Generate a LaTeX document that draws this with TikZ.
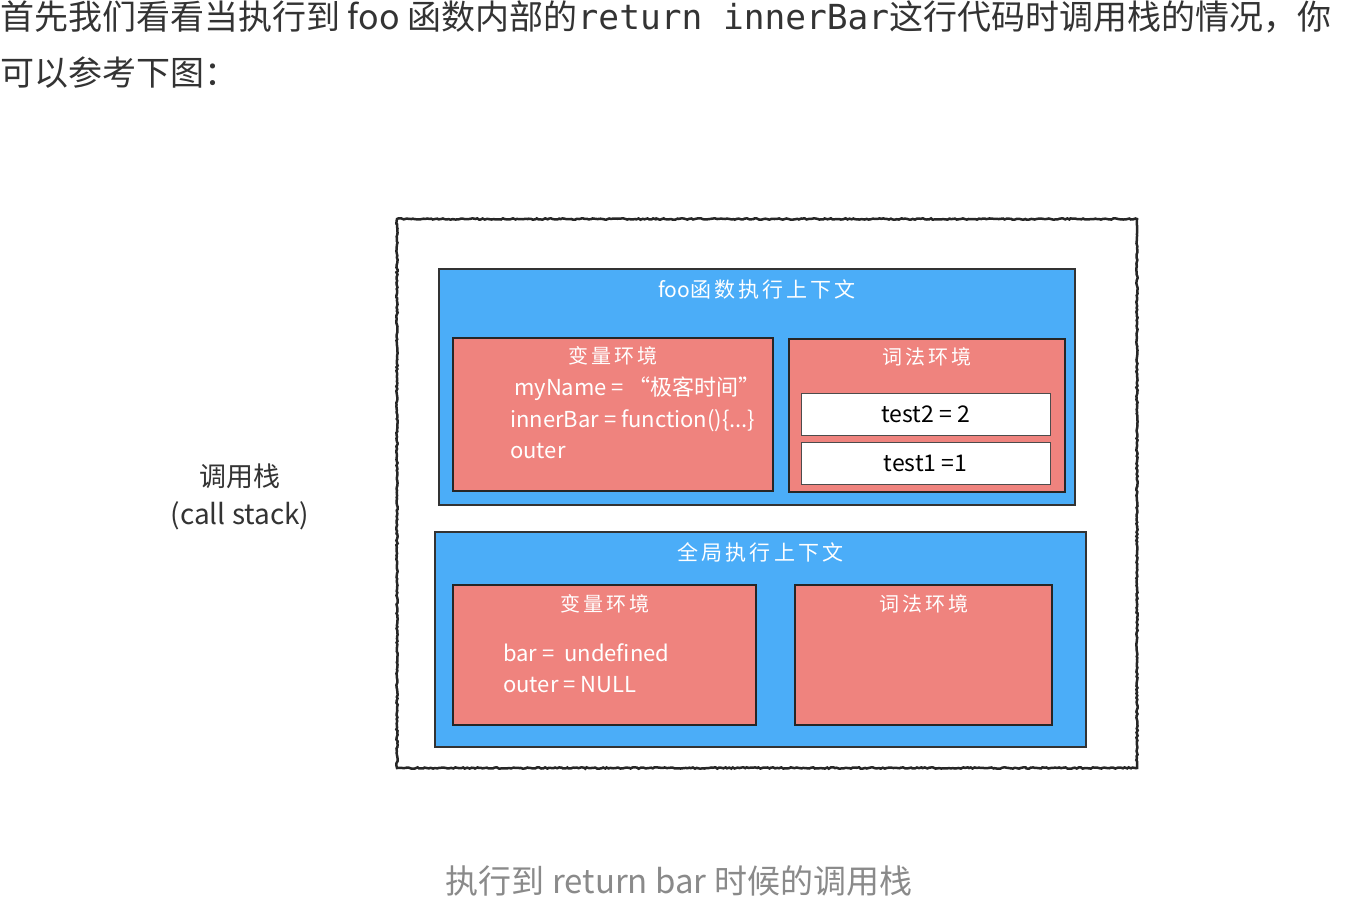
\documentclass[tikz,border=0pt]{standalone}
\usepackage{fontspec}
\setmainfont{Noto Sans CJK SC}
\newfontfamily\codefont{DejaVu Sans Mono}
\newfontfamily\handfont{Noto Sans CJK SC}[LetterSpace=15]
\usetikzlibrary{decorations.pathmorphing}
\definecolor{ctxblue}{HTML}{4BADF8}
\definecolor{envred}{HTML}{EF837E}
\definecolor{bodytext}{HTML}{333333}
\definecolor{captiongray}{HTML}{8A8A8A}
\tikzset{
  ctxbox/.style={outer sep=0, inner sep=0, draw=black!80, line width=1.5pt, fill=ctxblue},
  envbox/.style={outer sep=0, inner sep=0, draw=black!85, line width=2pt, fill=envred},
  valbox/.style={outer sep=0, inner sep=0, draw=black!70, line width=1pt, fill=white, text=black, font=\fontsize{23}{26}\selectfont},
  sketchbox/.style={outer sep=0, inner sep=0, draw=black!85, fill=white, line width=2.5pt, decorate, decoration={random steps, segment length=2pt, amplitude=0.7pt}},
  ctxtitle/.style={inner sep=0, text=white, font=\handfont\fontsize{21}{24}\selectfont},
  envtitle/.style={inner sep=0, text=white, font=\handfont\fontsize{20}{22}\selectfont},
  envline/.style={inner sep=0, anchor=base west, text=white, font=\fontsize{22}{25}\selectfont},
  bodyline/.style={inner sep=0, anchor=base west, text=bodytext, font=\fontsize{34}{40}\selectfont},
}
\begin{document}
\begin{tikzpicture}[x=1pt, y=-1pt]
        \useasboundingbox (0,0) rectangle (1364,896);
%%% Start Einleitung
        \node[bodyline] (intro1) at (0,29.6) {首先我们看看当执行到 foo 函数内部的};
        \node[bodyline, font=\codefont\fontsize{34.5}{40}\selectfont] (intro2) at (intro1.base east) {return innerBar};
        \node[bodyline] (intro3) at (intro2.base east) {这行代码时调用栈的情况，你};
        \node[bodyline] (intro4) at (0,85.6) {可以参考下图：};
%%% End Einleitung
%%% Start Callstack
        \draw node[sketchbox, minimum width=740pt, minimum height=549pt] (stack) at (767,493.5) {};
        \node[inner sep=0, text=bodytext, font=\fontsize{27}{30}\selectfont] (stackcn) at (240,476) {调用栈};
        \node[inner sep=0, text=bodytext, font=\fontsize{28}{30}\selectfont] (stacken) at (240,516) {(call stack)};
%%% End Callstack
%%% Start foo Kontext
        \draw (stack.north west) node[ctxbox, anchor=north west, xshift=42pt, yshift=-50pt, minimum width=636pt, minimum height=236pt] (fooctx) {};
        \draw (fooctx.north) ++(0,20) node[ctxtitle] {{\rmfamily foo}函数执行上下文};
        \draw (fooctx.north west) node[envbox, anchor=north west, xshift=14pt, yshift=-69pt, minimum width=320pt, minimum height=153pt] (foovar) {};
        \draw (foovar.north) ++(0,18) node[envtitle] {变量环境};
        \draw (foovar.north west) ++(61,57) node[envline] {myName = “极客时间”};
        \draw (foovar.north west) ++(57,89) node[envline] {innerBar = function()\{...\}};
        \draw (foovar.north west) ++(57,120) node[envline] {outer};
        \draw (fooctx.north east) node[envbox, anchor=north east, xshift=-10pt, yshift=-70pt, minimum width=276pt, minimum height=153pt] (foolex) {};
        \draw (foolex.north) ++(0,18) node[envtitle] {词法环境};
        \draw (foolex.north) node[valbox, anchor=north, xshift=-1.5pt, yshift=-54pt, minimum width=249pt, minimum height=42pt] (test2) {test2 = 2};
        \draw (test2.south) node[valbox, anchor=north, yshift=-7pt, minimum width=249pt, minimum height=42pt] (test1) {test1 =1};
%%% End foo Kontext
%%% Start globaler Kontext
        \draw (stack.south west) node[ctxbox, anchor=south west, xshift=38pt, yshift=21pt, minimum width=651pt, minimum height=215pt] (globalctx) {};
        \draw (globalctx.north) ++(0,20) node[ctxtitle] {全局执行上下文};
        \draw (globalctx.south west) node[envbox, anchor=south west, xshift=18pt, yshift=22pt, minimum width=303pt, minimum height=140pt] (globalvar) {};
        \draw (globalvar.north) ++(0,19) node[envtitle] {变量环境};
        \draw (globalvar.north west) ++(50,76) node[envline] {bar =\ \ undefined};
        \draw (globalvar.north west) ++(50,107) node[envline] {outer = NULL};
        \draw (globalctx.south east) node[envbox, anchor=south east, xshift=-34pt, yshift=22pt, minimum width=257pt, minimum height=140pt] (globallex) {};
        \draw (globallex.north) ++(0,19) node[envtitle] {词法环境};
%%% End globaler Kontext
        \node[inner sep=0, anchor=base, text=captiongray, font=\fontsize{33}{36}\selectfont] (caption) at (679,893) {执行到 return bar 时候的调用栈};
\end{tikzpicture}
\end{document}
